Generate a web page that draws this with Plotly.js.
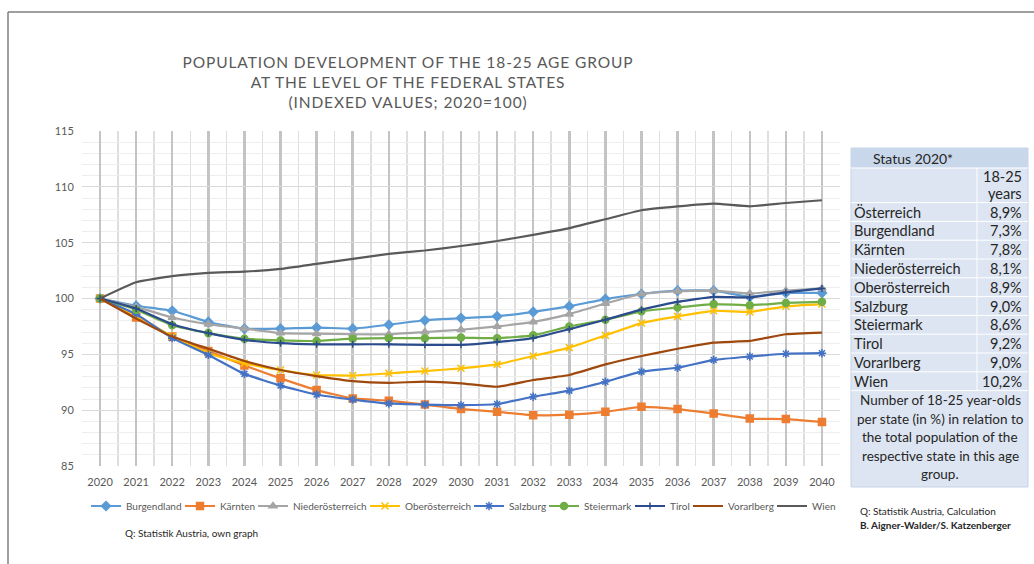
<!DOCTYPE html>
<html>
<head>
<meta charset="utf-8">
<script src="https://cdn.plot.ly/plotly-3.0.1.min.js"></script>
<style>
  html, body { margin: 0; padding: 0; background: #fff; }
  #chart { width: 1034px; height: 564px; }
  .gtitle { letter-spacing: 0.9px; }
</style>
</head>
<body>
<div id="chart"></div>
<script>
// ---------- data ----------
const years = [2020,2021,2022,2023,2024,2025,2026,2027,2028,2029,2030,2031,2032,2033,2034,2035,2036,2037,2038,2039,2040];

const burgendland      = [100, 99.35, 98.9, 97.9, 97.3, 97.3, 97.4, 97.3, 97.65, 98.05, 98.25, 98.4, 98.8, 99.3, 99.95, 100.4, 100.7, 100.7, 100.15, 100.5, 100.5];
const kaernten         = [100, 98.3, 96.6, 95.3, 94.0, 92.85, 91.8, 91.05, 90.85, 90.5, 90.1, 89.85, 89.55, 89.6, 89.85, 90.3, 90.1, 89.7, 89.25, 89.2, 88.95];
const niederoesterreich= [100, 99.25, 98.3, 97.7, 97.3, 96.9, 96.85, 96.8, 96.8, 97.0, 97.2, 97.5, 97.9, 98.6, 99.55, 100.4, 100.65, 100.7, 100.45, 100.7, 100.9];
const oberoesterreich  = [100, 98.5, 96.6, 95.1, 94.2, 93.6, 93.15, 93.1, 93.3, 93.5, 93.75, 94.1, 94.85, 95.6, 96.7, 97.8, 98.4, 98.9, 98.8, 99.3, 99.5];
const salzburg         = [100, 98.6, 96.45, 94.95, 93.25, 92.2, 91.4, 90.95, 90.6, 90.5, 90.45, 90.55, 91.2, 91.75, 92.55, 93.45, 93.8, 94.5, 94.8, 95.05, 95.1];
const steiermark       = [100, 99.0, 97.6, 96.9, 96.4, 96.25, 96.2, 96.4, 96.45, 96.45, 96.5, 96.45, 96.7, 97.5, 98.1, 98.85, 99.2, 99.5, 99.4, 99.6, 99.7];
const tirol            = [100, 99.1, 97.7, 96.9, 96.3, 96.0, 95.9, 95.9, 95.9, 95.85, 95.85, 96.1, 96.45, 97.25, 98.1, 99.0, 99.7, 100.15, 100.1, 100.55, 100.9];
const vorarlberg       = [100, 98.2, 96.6, 95.5, 94.4, 93.6, 93.05, 92.6, 92.45, 92.55, 92.4, 92.1, 92.7, 93.15, 94.1, 94.85, 95.5, 96.05, 96.2, 96.8, 96.95];
const wien             = [100, 101.45, 102.0, 102.3, 102.4, 102.65, 103.1, 103.55, 104.0, 104.3, 104.7, 105.15, 105.7, 106.3, 107.1, 107.9, 108.25, 108.5, 108.25, 108.55, 108.8];

const seriesNames = ["Burgendland","Kärnten","Niederösterreich","Oberösterreich","Salzburg","Steiermark","Tirol","Vorarlberg","Wien"];

const tableStates = ["Österreich","Burgendland","Kärnten","Niederösterreich","Oberösterreich","Salzburg","Steiermark","Tirol","Vorarlberg","Wien"];
const tableShares = ["8,9%","7,3%","7,8%","8,1%","8,9%","9,0%","8,6%","9,2%","9,0%","10,2%"];
const tableHeader = "Status 2020*";
const tableColHead = ["18-25","years"];
const tableNote = ["Number of 18-25 year-olds","per state (in %) in relation to","the total population of the","respective state in this age","group."];

// ---------- styles ----------
const FONT = "Lato, 'Open Sans', sans-serif";
const GREY = "#595959";
const LEGEND_SIZE = 10;
const styles = [
  {color:"#5B9BD5", symbol:"diamond", size:7},
  {color:"#ED7D31", symbol:"square", size:7},
  {color:"#A5A5A5", symbol:"triangle-up", size:7},
  {color:"#FFC000", symbol:"x-thin-open", size:7},
  {color:"#4472C4", symbol:"asterisk-open", size:7},
  {color:"#70AD47", symbol:"circle", size:7},
  {color:"#2B4C8C", symbol:"cross-thin-open", size:5},
  {color:"#9E480E", symbol:null, size:0},
  {color:"#595959", symbol:null, size:0}
];
const seriesData = [burgendland,kaernten,niederoesterreich,oberoesterreich,salzburg,steiermark,tirol,vorarlberg,wien];

const traces = seriesData.map((ys,i)=>{
  const s = styles[i];
  const t = {
    type:"scatter", x:years, y:ys, name:seriesNames[i],
    mode: s.symbol ? "lines+markers" : "lines",
    line:{color:s.color, width:2.2, shape:"spline", smoothing:0.4}
  };
  if (s.symbol) t.marker = {symbol:s.symbol, size:s.size, color:s.color, line:{color:s.color, width:1.5}};
  return t;
});

// ---------- pixel helpers (plot area: x 82..840, y 131..466) ----------
const L=82, R=840, T=131, B=466;
const px = p => (p-L)/(R-L);
const py = p => (B-p)/(B-T);

const shapes = [];
const annotations = [];

// outer frame
shapes.push({type:"line", xref:"paper", yref:"paper", x0:px(8), x1:px(8), y0:py(12), y1:py(564), line:{color:"#7F7F7F", width:1.5}});
shapes.push({type:"line", xref:"paper", yref:"paper", x0:px(8), x1:px(1040), y0:py(12), y1:py(12), line:{color:"#7F7F7F", width:1.5}});

// table
const tL=851, tR=1028, tTop=148, hdrB=168, headRowH=17.3, rowH=18.8, colX=977;
const bodyTop = hdrB + 2*headRowH;
const bodyBot = bodyTop + tableStates.length*rowH;
const tBot = 487;
shapes.push({type:"rect", xref:"paper", yref:"paper", x0:px(tL), x1:px(tR), y0:py(tBot), y1:py(tTop), fillcolor:"#DCE5F1", line:{color:"#C5D3E6", width:1}});
shapes.push({type:"rect", xref:"paper", yref:"paper", x0:px(tL), x1:px(tR), y0:py(hdrB), y1:py(tTop), fillcolor:"#C9D7EA", line:{width:0}});
shapes.push({type:"line", xref:"paper", yref:"paper", x0:px(colX), x1:px(colX), y0:py(bodyBot), y1:py(hdrB), line:{color:"#FFFFFF", width:1}});
const sepYs = [hdrB, bodyTop];
for (let i=1;i<=tableStates.length;i++) sepYs.push(bodyTop + i*rowH);
sepYs.forEach(yy=>{
  shapes.push({type:"line", xref:"paper", yref:"paper", x0:px(tL), x1:px(tR), y0:py(yy), y1:py(yy), line:{color:"#FFFFFF", width:1}});
});
const TFONT = {family:FONT, size:14.5, color:"#262626"};
annotations.push({xref:"paper", yref:"paper", x:px(913), y:py(158), text:tableHeader, showarrow:false, xanchor:"center", yanchor:"middle", font:{family:FONT, size:14, color:"#262626"}});
tableColHead.forEach((t,i)=>{
  annotations.push({xref:"paper", yref:"paper", x:px(1024), y:py(hdrB + headRowH*(i+0.5)), text:t, showarrow:false, xanchor:"right", yanchor:"middle", font:TFONT});
});
tableStates.forEach((s,i)=>{
  const yc = bodyTop + rowH*(i+0.5);
  annotations.push({xref:"paper", yref:"paper", x:px(852), y:py(yc), text:s, showarrow:false, xanchor:"left", yanchor:"middle", font:TFONT});
  annotations.push({xref:"paper", yref:"paper", x:px(1024), y:py(yc), text:tableShares[i], showarrow:false, xanchor:"right", yanchor:"middle", font:TFONT});
});
tableNote.forEach((t,i)=>{
  annotations.push({xref:"paper", yref:"paper", x:px(940), y:py(400 + i*18.6), text:t, showarrow:false, xanchor:"center", yanchor:"middle", font:{family:FONT, size:13.5, color:"#262626"}});
});

// source notes
annotations.push({xref:"paper", yref:"paper", x:px(858), y:py(511), text:"Q: Statistik Austria, Calculation", showarrow:false, xanchor:"left", yanchor:"middle", font:{family:FONT, size:10, color:"#262626"}});
annotations.push({xref:"paper", yref:"paper", x:px(858), y:py(525), text:"<b>B. Aigner-Walder/S. Katzenberger</b>", showarrow:false, xanchor:"left", yanchor:"middle", font:{family:FONT, size:10, color:"#262626"}});
annotations.push({xref:"paper", yref:"paper", x:px(123), y:py(533), text:"Q: Statistik Austria, own graph", showarrow:false, xanchor:"left", yanchor:"middle", font:{family:FONT, size:10, color:"#262626"}});

const layout = {
  width:1034, height:564,
  margin:{l:L, r:1034-R, t:T, b:564-B, pad:0},
  paper_bgcolor:"#FFFFFF", plot_bgcolor:"#FFFFFF",
  font:{family:FONT, color:GREY},
  title:{
    text:"POPULATION DEVELOPMENT OF THE 18-25 AGE GROUP<br>AT THE LEVEL OF THE FEDERAL STATES<br>(INDEXED VALUES; 2020=100)",
    x:408/1034, xref:"container", xanchor:"center",
    y:1-68/564, yref:"container", yanchor:"top",
    font:{family:FONT, size:15.5, color:GREY}
  },
  xaxis:{
    type:"linear", range:[2019.5, 2040.5], tick0:2020, dtick:1, tickformat:"d",
    showgrid:true, gridcolor:"#C4C4C4", gridwidth:2.5,
    minor:{tick0:2019.5, dtick:0.5, showgrid:true, gridcolor:"#DEDEDE", gridwidth:1.5},
    zeroline:false, showline:false,
    ticks:"outside", ticklen:6, tickcolor:"rgba(0,0,0,0)",
    tickfont:{family:FONT, size:11, color:GREY}, fixedrange:true
  },
  yaxis:{
    range:[85,115], tick0:85, dtick:5,
    showgrid:true, gridcolor:"#D9D9D9", gridwidth:1,
    minor:{dtick:1, showgrid:true, gridcolor:"#EEEEEE", gridwidth:1},
    zeroline:false, showline:false,
    ticks:"outside", ticklen:5, tickcolor:"rgba(0,0,0,0)",
    tickfont:{family:FONT, size:11, color:GREY}, fixedrange:true
  },
  showlegend:true,
  legend:{
    orientation:"h", x:px(86), xanchor:"left", y:py(506), yanchor:"middle",
    font:{family:FONT, size:LEGEND_SIZE, color:GREY},
    itemwidth:30, tracegroupgap:0, bgcolor:"rgba(0,0,0,0)"
  },
  shapes:shapes,
  annotations:annotations
};

const gd = document.getElementById("chart");
// first pass with a provisional entry width, then pack legend entries to their rendered text width
traces.forEach(t => { t.legendwidth = 20; });
Plotly.newPlot(gd, traces, layout, {displayModeBar:false, staticPlot:true}).then(()=>{
  const nodes = gd.querySelectorAll(".legend .traces .legendtext");
  const widths = [];
  nodes.forEach(n => widths.push(n.getBBox().width));
  if (widths.length === traces.length) {
    const lw = widths.map((w,i) => i === widths.length-1 ? Math.round(w + 4) : Math.max(8, Math.round(w - 7)));
    return Plotly.restyle(gd, {legendwidth: lw});
  }
});
</script>
</body>
</html>
